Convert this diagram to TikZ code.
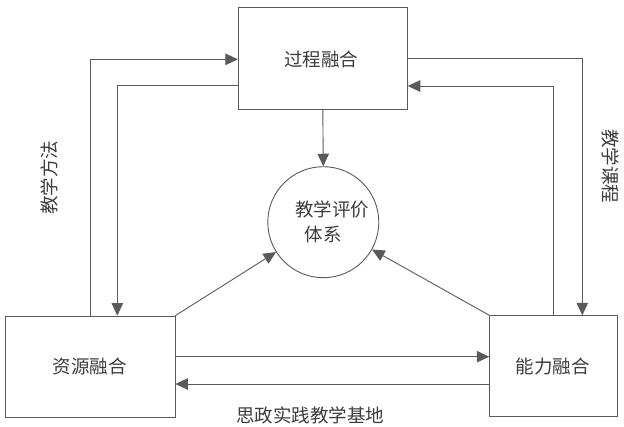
\documentclass[tikz,border=0pt]{standalone}
\usepackage{fontspec}
\newfontfamily\cjk{Noto Sans CJK SC}
\usetikzlibrary{arrows.meta,calc}
\definecolor{linec}{HTML}{5A5A5A}
\definecolor{textc}{HTML}{3C3C3C}
\tikzset{
  box/.style={draw=linec,line width=0.9pt,rectangle,inner sep=0pt},
  lbl/.style={font=\cjk\fontsize{18.5}{24}\selectfont,text=textc,inner sep=0pt},
  conn/.style={draw=linec,line width=0.9pt},
  arr/.style={conn,-{Triangle[length=12.5pt,width=11.5pt]}}
}
\begin{document}
\begin{tikzpicture}[x=1pt,y=-1pt]
\useasboundingbox (0,0) rectangle (624,426);
\fill[white] (0,0) rectangle (624,426);
\node[box,minimum width=169pt,minimum height=101.7pt] (proc) at (322.8,58.2) {};
\node[lbl] (proct) at (321,59) {过程融合};
\node[box,minimum width=169.3pt,minimum height=101.3pt] (res) at (90.3,366.7) {};
\node[lbl] (rest) at (89.7,366) {资源融合};
\node[box,minimum width=127.6pt,minimum height=101pt] (abl) at (553.5,366.2) {};
\node[lbl] (ablt) at (552.7,366) {能力融合};
\node[draw=linec,line width=0.9pt,circle,minimum size=111pt,inner sep=0pt] (eval) at (323.3,222.2) {};
\node[lbl] (evt1) at (332,209) {教学评价};
\node[lbl] (evt2) at (323,234) {体系};
\node[lbl,rotate=90] (lm) at (49.5,177.5) {教学方法};
\node[lbl,rotate=-90] (rm) at (610.5,166) {教学课程};
\node[lbl] (bm) at (310,415.5) {思政实践教学基地};
% left loops
\draw[arr] (res.north) |- ([yshift=-1.1pt]proc.west);
\draw[arr] ([yshift=-26.8pt]proc.west) -| ([xshift=27pt]res.north);
% right loops
\draw[arr] (proc.east) -| ([xshift=28.8pt]abl.north);
\draw[arr] (abl.north) |- ([yshift=-27.8pt]proc.east);
% to evaluation
\draw[arr] (proc.south) -- (eval.north);
\draw[arr] (res.north east) -- (eval);
\draw[arr] (abl.north west) -- (eval);
% horizontal
\draw[arr] ([yshift=10pt]res.east) -- ([yshift=10pt]res.east -| abl.west);
\draw[arr] ([yshift=-17.3pt]res.east -| abl.west) -- ([yshift=-17.3pt]res.east);
\end{tikzpicture}
\end{document}
